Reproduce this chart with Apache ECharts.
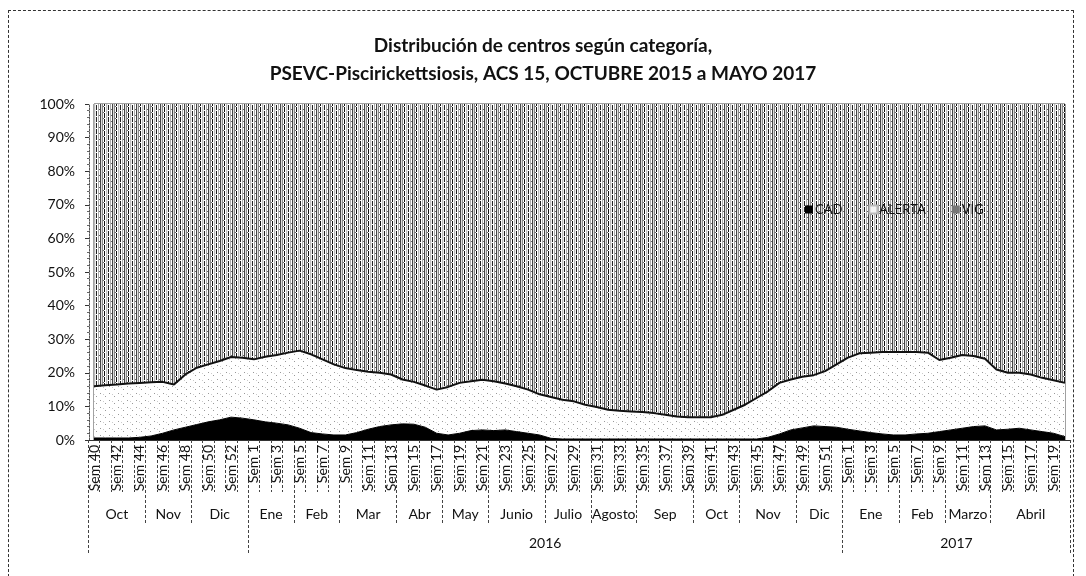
<!DOCTYPE html>
<html>
<head>
<meta charset="utf-8">
<script src="https://cdn.jsdelivr.net/npm/echarts@6/dist/echarts.min.js"></script>
<style>
  html, body { margin: 0; padding: 0; background: #fff; }
  #main { width: 1086px; height: 576px; }
  #frame { position: absolute; left: 8px; top: 10px; width: 1064px; height: 580px;
           border: 1px dashed #333; pointer-events: none; }
</style>
</head>
<body>
<div id="main"></div>
<div id="frame"></div>
<script>
// semanas epidemiológicas (2015: 40-53, 2016: 1-52, 2017: 1-20)
var weeks = ['Sem 40','Sem 41','Sem 42','Sem 43','Sem 44','Sem 45','Sem 46','Sem 47','Sem 48','Sem 49','Sem 50','Sem 51','Sem 52','Sem 53',
  'Sem 1','Sem 2','Sem 3','Sem 4','Sem 5','Sem 6','Sem 7','Sem 8','Sem 9','Sem 10','Sem 11','Sem 12','Sem 13','Sem 14','Sem 15','Sem 16','Sem 17','Sem 18','Sem 19','Sem 20',
  'Sem 21','Sem 22','Sem 23','Sem 24','Sem 25','Sem 26','Sem 27','Sem 28','Sem 29','Sem 30','Sem 31','Sem 32','Sem 33','Sem 34','Sem 35','Sem 36','Sem 37','Sem 38','Sem 39','Sem 40',
  'Sem 41','Sem 42','Sem 43','Sem 44','Sem 45','Sem 46','Sem 47','Sem 48','Sem 49','Sem 50','Sem 51','Sem 52',
  'Sem 1','Sem 2','Sem 3','Sem 4','Sem 5','Sem 6','Sem 7','Sem 8','Sem 9','Sem 10','Sem 11','Sem 12','Sem 13','Sem 14','Sem 15','Sem 16','Sem 17','Sem 18','Sem 19','Sem 20'];

var months = ['Oct','Nov','Dic','Ene','Feb','Mar','Abr','May','Junio','Julio','Agosto','Sep','Oct','Nov','Dic','Ene','Feb','Marzo','Abril'];
var monthWeeks = [5,4,5,4,4,5,4,4,5,4,4,5,4,5,4,5,4,4,7];
var years = ['', '2016', '2017'];
var yearWeeks = [14, 52, 20];

// % de centros por categoría
var cad = [0.6,0.6,0.6,0.6,0.8,1.2,2.0,3.0,3.8,4.6,5.4,6.0,6.8,6.5,
  6.0,5.4,5.0,4.5,3.5,2.2,1.8,1.5,1.5,2.2,3.2,4.0,4.5,4.8,4.7,3.8,2.0,1.5,2.0,2.8,3.0,2.8,3.0,2.5,2.0,1.5,0.5,
  0.3,0.3,0.3,0.3,0.3,0.3,0.3,0.3,0.3,0.3,0.3,0.3,0.3,0.3,0.3,0.3,0.3,0.3,0.8,1.8,3.0,3.6,4.2,4.0,3.8,
  3.2,2.7,2.2,1.8,1.5,1.5,1.8,2.0,2.5,3.0,3.5,4.0,4.2,3.0,3.2,3.5,3.0,2.5,2.0,1.0];
var alerta = [15.4,15.7,15.9,16.2,16.2,16.0,15.3,13.5,15.7,16.9,17.1,17.5,17.9,18.0,
  18.0,19.4,20.3,21.5,23.1,23.3,22.2,21.0,19.9,18.6,17.1,16.0,15.0,13.2,12.6,12.4,13.0,14.3,15.0,14.7,14.9,14.7,13.8,13.5,13.0,12.1,12.3,
  11.7,11.2,10.2,9.5,8.7,8.4,8.2,8.0,7.7,7.2,6.7,6.5,6.5,6.5,7.2,8.7,10.2,12.2,13.7,15.2,15.0,15.2,15.1,16.5,18.7,
  21.3,23.1,23.8,24.4,24.7,24.7,24.4,24.0,21.3,21.5,21.8,21.0,20.0,18.0,16.8,16.5,16.5,16.0,15.8,16.0];
var vig = [84.0,83.7,83.5,83.2,83.0,82.8,82.7,83.5,80.5,78.5,77.5,76.5,75.3,75.5,
  76.0,75.2,74.7,74.0,73.4,74.5,76.0,77.5,78.6,79.2,79.7,80.0,80.5,82.0,82.7,83.8,85.0,84.2,83.0,82.5,82.1,82.5,83.2,84.0,85.0,86.4,87.2,
  88.0,88.5,89.5,90.2,91.0,91.3,91.5,91.7,92.0,92.5,93.0,93.2,93.2,93.2,92.5,91.0,89.5,87.5,85.5,83.0,82.0,81.2,80.7,79.5,77.5,
  75.5,74.2,74.0,73.8,73.8,73.8,73.8,74.0,76.2,75.5,74.7,75.0,75.8,79.0,80.0,80.0,80.5,81.5,82.2,83.0];

var FONT = 'Lato, "Liberation Sans", sans-serif';

// tramas tipo Excel
function stripePattern() {
  var cols = ['#222','#fff','#aaa','#fff','#444','#ddd','#888','#fff','#111','#fff','#bbb','#eee'];
  var c = document.createElement('canvas');
  c.width = cols.length; c.height = 6;
  var ctx = c.getContext('2d');
  for (var i = 0; i < cols.length; i++) {
    ctx.fillStyle = cols[i];
    ctx.fillRect(i, 0, 1, 6);
  }
  ctx.fillStyle = '#fff';
  ctx.fillRect(0, 2, 1, 1);
  ctx.fillRect(8, 4, 1, 1);
  ctx.fillStyle = '#666';
  ctx.fillRect(3, 1, 1, 1);
  ctx.fillRect(7, 4, 1, 1);
  return c;
}
function dotPattern() {
  var c = document.createElement('canvas');
  c.width = 9; c.height = 7;
  var ctx = c.getContext('2d');
  ctx.fillStyle = '#fff';
  ctx.fillRect(0, 0, 9, 7);
  ctx.fillStyle = '#999';
  ctx.fillRect(1, 1, 1, 1);
  ctx.fillRect(6, 4, 1, 1);
  ctx.fillStyle = '#ccc';
  ctx.fillRect(4, 2, 1, 1);
  return c;
}

// posiciones de separadores y etiquetas de grupos
function groups(counts, names) {
  var bounds = [-0.5], centers = [], labels = {};
  var start = -0.5;
  for (var i = 0; i < counts.length; i++) {
    var end = start + counts[i];
    bounds.push(end);
    var mid = (start + end) / 2;
    if (names[i]) { centers.push(mid); labels[mid.toFixed(2)] = names[i]; }
    start = end;
  }
  return { bounds: bounds, centers: centers, labels: labels };
}
var mg = groups(monthWeeks, months);
var yg = groups(yearWeeks, years);
var weekTicks = [], weekLabelPos = [];
for (var i = 0; i < weeks.length; i++) {
  weekTicks.push(i - 0.5);
  if (i % 2 === 0) weekLabelPos.push(i);
}
weekTicks.push(weeks.length - 0.5);

var plotLeft = 94, plotRight = 21, plotTop = 104, plotBottom = 136;
var step = (1086 - plotLeft - plotRight) / (weeks.length - 1);

var myChart = echarts.init(document.getElementById('main'));
var tickStyle = { color: '#444', width: 1, type: [3, 2] };
var option = {
  backgroundColor: '#fff',
  textStyle: { fontFamily: FONT },
  title: {
    text: 'Distribución de centros según categoría,\nPSEVC-Piscirickettsiosis, ACS 15, OCTUBRE 2015 a MAYO 2017',
    left: 538, textAlign: 'center', top: 27,
    textStyle: { fontFamily: FONT, fontSize: 19, fontWeight: 'bold', color: '#111', lineHeight: 28 }
  },
  legend: {
    data: ['CAD', 'ALERTA', 'VIG'],
    left: 800, top: 198,
    icon: 'rect', itemWidth: 8, itemHeight: 8, itemGap: 26,
    textStyle: { fontFamily: FONT, fontSize: 13, color: '#111', padding: [0, 0, 0, -3] }
  },
  grid: [
    { left: plotLeft, right: plotRight, top: plotTop, bottom: plotBottom,
      show: true, borderColor: '#444', borderWidth: 1, backgroundColor: 'transparent' },
    { left: plotLeft - step / 2, right: plotRight - step / 2, top: plotTop, bottom: plotBottom }
  ],
  xAxis: [
    { gridIndex: 0, type: 'category', data: weeks, boundaryGap: false, position: 'bottom',
      axisLine: { show: false }, axisTick: { show: false }, axisLabel: { show: false } },
    { gridIndex: 1, type: 'value', position: 'bottom', min: -0.5, max: weeks.length - 0.5, splitLine: { show: false },
      axisLine: { show: true, lineStyle: { color: '#333' } },
      axisTick: { show: true, customValues: weekTicks, length: 52, lineStyle: tickStyle },
      axisLabel: { customValues: weekLabelPos, rotate: 90, margin: 5, fontSize: 14, color: '#111',
        fontFamily: FONT, formatter: function (v) { return weeks[Math.round(v)]; } } },
    { gridIndex: 1, type: 'value', position: 'bottom', min: -0.5, max: weeks.length - 0.5, splitLine: { show: false },
      axisLine: { show: false },
      axisTick: { show: true, customValues: mg.bounds, length: 85, lineStyle: tickStyle },
      axisLabel: { customValues: mg.centers, margin: 67, fontSize: 14, color: '#111', fontFamily: FONT,
        formatter: function (v) { return mg.labels[v.toFixed(2)] || ''; } } },
    { gridIndex: 1, type: 'value', position: 'bottom', min: -0.5, max: weeks.length - 0.5, splitLine: { show: false },
      axisLine: { show: false },
      axisTick: { show: true, customValues: yg.bounds, length: 113, lineStyle: tickStyle },
      axisLabel: { customValues: yg.centers, margin: 96, fontSize: 14, color: '#111', fontFamily: FONT,
        formatter: function (v) { return yg.labels[v.toFixed(2)] || ''; } } }
  ],
  yAxis: [
    { gridIndex: 0, type: 'value', min: 0, max: 100, interval: 10, offset: 5,
      axisLine: { show: true, lineStyle: { color: '#555', type: [2, 1] } },
      axisTick: { show: true, length: 4, lineStyle: { color: '#333' } },
      minorTick: { show: true, splitNumber: 5, length: 2, lineStyle: { color: '#666' } },
      splitLine: { show: false },
      axisLabel: { formatter: '{value}%', fontSize: 14, color: '#111', margin: 14, fontFamily: FONT } },
    { gridIndex: 1, type: 'value', show: false }
  ],
  series: [
    { name: 'CAD', type: 'line', stack: 'total', data: cad, showSymbol: false,
      itemStyle: { color: '#000' },
      lineStyle: { color: '#000', width: 1 },
      areaStyle: { color: '#000', opacity: 1 } },
    { name: 'ALERTA', type: 'line', stack: 'total', data: alerta, showSymbol: false,
      itemStyle: { color: '#f4f4f4', borderColor: '#bbb', borderWidth: 1 },
      lineStyle: { color: '#111', width: 2 },
      areaStyle: { color: { image: dotPattern(), repeat: 'repeat' }, opacity: 1 } },
    { name: 'VIG', type: 'line', stack: 'total', data: vig, showSymbol: false,
      itemStyle: { color: '#777' },
      lineStyle: { width: 0 },
      areaStyle: { color: { image: stripePattern(), repeat: 'repeat' }, opacity: 1 } }
  ]
};
myChart.setOption(option);
</script>
</body>
</html>
